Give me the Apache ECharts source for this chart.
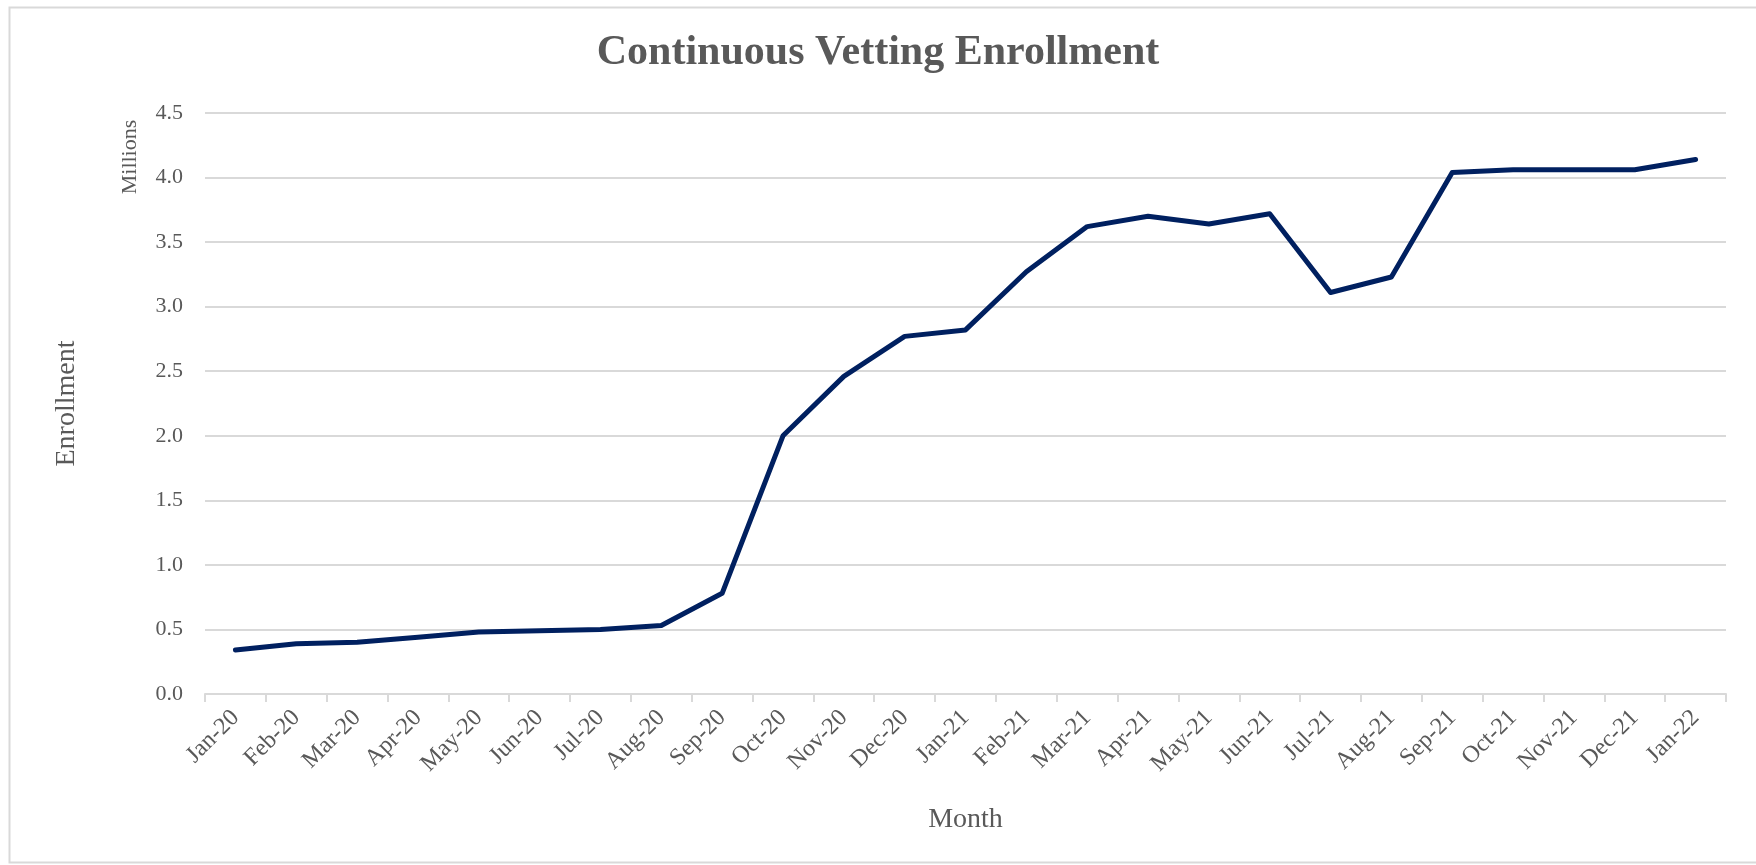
<!DOCTYPE html>
<html>
<head>
<meta charset="utf-8">
<script src="https://cdn.jsdelivr.net/npm/echarts@6/dist/echarts.min.js"></script>
<style>
    html, body { margin: 0; padding: 0; background: #fff; }
    #chart { width: 1756px; height: 865px; }
</style>
</head>
<body>
<div id="chart"></div>
<script>
    // months on the x axis
    var months = ['Jan-20', 'Feb-20', 'Mar-20', 'Apr-20', 'May-20', 'Jun-20', 'Jul-20', 'Aug-20',
        'Sep-20', 'Oct-20', 'Nov-20', 'Dec-20', 'Jan-21', 'Feb-21', 'Mar-21', 'Apr-21', 'May-21',
        'Jun-21', 'Jul-21', 'Aug-21', 'Sep-21', 'Oct-21', 'Nov-21', 'Dec-21', 'Jan-22'];
    // enrollment, millions
    var enrollment = [0.34, 0.39, 0.40, 0.44, 0.48, 0.49, 0.50, 0.53,
        0.78, 2.00, 2.46, 2.77, 2.82, 3.27, 3.62, 3.70, 3.64,
        3.72, 3.11, 3.23, 4.04, 4.06, 4.06, 4.06, 4.14];
    var yMin = 0, yMax = 4.5, yStep = 0.5;

    var font = '"Liberation Serif", "DejaVu Serif", serif';
    var grey = '#595959';

    var chart = echarts.init(document.getElementById('chart'));
    var option = {
        animation: false,
        textStyle: { fontFamily: font },
        title: {
            text: 'Continuous Vetting Enrollment',
            left: 'center',
            top: 27,
            textStyle: { fontFamily: font, fontSize: 42, fontWeight: 'bold', color: grey }
        },
        graphic: [
            {
                type: 'rect',
                left: 7, top: 5,
                shape: { width: 1760, height: 855 },
                style: { fill: 'none', stroke: '#d9d9d9', lineWidth: 2 },
                silent: true
            },
            {
                type: 'text',
                x: 130, y: 157,
                rotation: Math.PI / 2,
                style: {
                    text: 'Millions', font: '22px ' + font, fill: grey,
                    align: 'center', verticalAlign: 'middle'
                }
            }
        ],
        grid: { left: 205, right: 30, top: 113, bottom: 171 },
        xAxis: {
            type: 'category',
            data: months,
            boundaryGap: true,
            name: 'Month',
            nameLocation: 'middle',
            nameGap: 112,
            nameTextStyle: { fontSize: 28, color: grey, fontFamily: font },
            axisLine: { lineStyle: { color: '#d9d9d9', width: 2 } },
            axisTick: { show: true, length: 8, lineStyle: { color: '#d9d9d9', width: 2 } },
            axisLabel: { rotate: 45, fontSize: 24, color: grey, margin: 20, interval: 0 }
        },
        yAxis: {
            type: 'value',
            min: yMin, max: yMax, interval: yStep,
            name: 'Enrollment',
            nameLocation: 'middle',
            nameGap: 124,
            nameTextStyle: { fontSize: 28, color: grey, fontFamily: font },
            axisLine: { show: false },
            axisTick: { show: false },
            axisLabel: {
                fontSize: 22, color: grey, margin: 22,
                formatter: function (v) { return v.toFixed(1); }
            },
            splitLine: { lineStyle: { color: '#d9d9d9', width: 2 } }
        },
        series: [{
            type: 'line',
            data: enrollment,
            symbol: 'none',
            lineStyle: { color: '#002060', width: 5, cap: 'round', join: 'round' }
        }]
    };
    chart.setOption(option);
</script>
</body>
</html>
